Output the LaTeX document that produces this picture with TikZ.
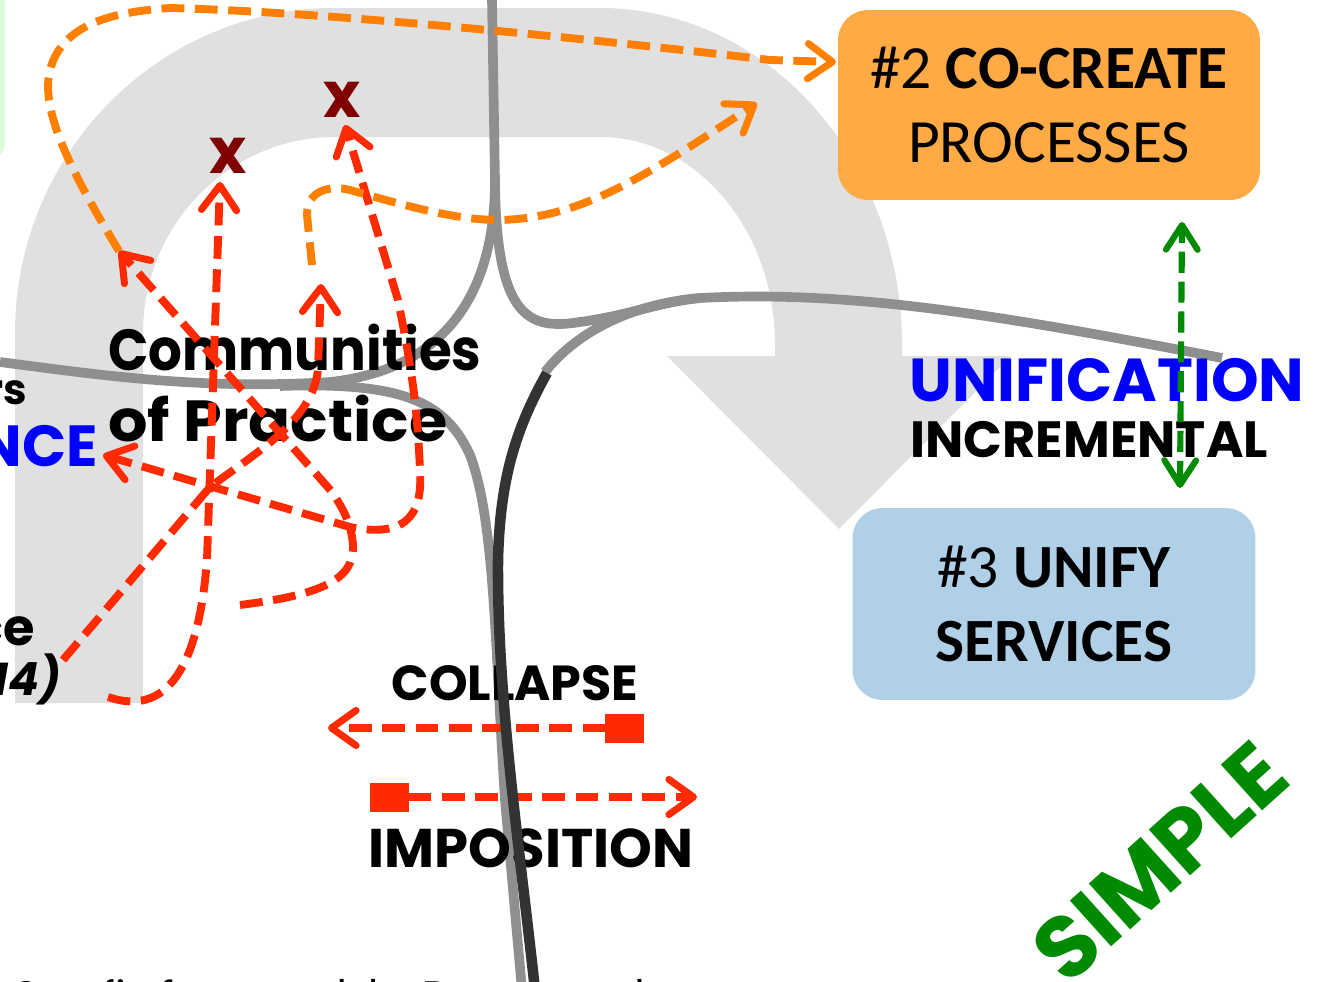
\documentclass[tikz,border=0pt]{standalone}
\usepackage{fontspec}
\setmainfont{Carlito}
\newfontfamily\comic{Poppins}
\usetikzlibrary{arrows.meta}
\definecolor{bandgray}{HTML}{E0E0E0}
\definecolor{faultgray}{HTML}{8F8F8F}
\definecolor{faultdark}{HTML}{333333}
\definecolor{flowred}{HTML}{FF2A00}
\definecolor{floworange}{HTML}{FF8000}
\definecolor{boxorange}{HTML}{FFAA45}
\definecolor{boxblue}{HTML}{B0D0E8}
\definecolor{chaosgreen}{HTML}{D9FDD9}
\definecolor{simplegreen}{HTML}{008A00}
\definecolor{markred}{HTML}{800000}
\tikzset{
  barb/.tip={Straight Barb[length=14pt, width=20pt, line width=4pt, round]},
  block/.tip={Square[length=22pt, width=16.5pt, line width=0pt]},
  plate/.style={rounded corners=0.6cm, align=center,
    font=\fontsize{35}{42}\selectfont},
  fault/.style={draw=faultgray, line width=5.5pt},
  redtrail/.style={draw=flowred, line width=4.5pt, dash pattern=on 13pt off 6pt},
  orangetrail/.style={draw=floworange, line width=4.5pt, dash pattern=on 13pt off 6pt},
  hand/.style={font=\comic\bfseries\fontsize{#1}{40}\selectfont},
}
\begin{document}
\begin{tikzpicture}[x=0.02cm, y=-0.02cm,
  every node/.style={inner sep=0pt}]
  \useasboundingbox (0,0) rectangle (1319,981);
  \clip (0,0) rectangle (1319,981);

  % pieces of the neighbour panels
  \draw[draw=chaosgreen!80!black!20, fill=chaosgreen, rounded corners=0.5cm]
    (-100,-40) rectangle (5,165);

  % the big turn
  \fill[bandgray] (15,703) -- (15,333) .. controls (15,154) and (158,8) .. (335,8)
    -- (600,8) .. controls (767,8) and (902,159) .. (902,345) -- (902,356)
    -- (1011,356) -- (839,529) -- (667,356) -- (775,356) -- (775,345)
    .. controls (775,230) and (697,137) .. (600,137) -- (335,137)
    .. controls (229,137) and (143,225) .. (143,333) -- (143,703) -- cycle;

  % domains
  \node[plate, fill=boxorange, minimum width=8.44cm, minimum height=3.8cm]
    (cocreate) at (1049,105) {\raisebox{-2pt}{\#2 \textbf{CO-CREATE}}\\\raisebox{-2pt}{PROCESSES}};
  \node[plate, fill=boxblue, minimum width=8.06cm, minimum height=3.84cm]
    (unify) at (1054,604) {\raisebox{-2pt}{\#3 \textbf{UNIFY}}\\\raisebox{-2pt}{\textbf{SERVICES}}};

  % boundaries
  \draw[fault] (492,0) -- (495,180) .. controls (495,300) and (440,370) .. (330,382)
    .. controls (200,390) and (100,375) .. (0,362);
  \draw[fault] (495,180) .. controls (496,320) and (530,330) .. (580,322)
    .. controls (630,315) and (660,302) .. (700,298)
    .. controls (850,290) and (1000,315) .. (1222,358);
  \draw[fault] (700,298) .. controls (620,305) and (570,340) .. (545,372);
  \draw[fault] (280,386) .. controls (400,382) and (445,400) .. (470,455)
    .. controls (495,520) and (495,650) .. (505,800) -- (522,990);

  % texts
  \node[hand=33, anchor=north west, align=left] (cop) at (108,324)
    {\scalebox{0.915}[1]{Communities}\\\scalebox{1.07}[1]{of Practice}};
  \node[hand=28] (collapse) at (515,683) {COLLAPSE};
  \node[hand=31] (imposition) at (531,848) {IMPOSITION};
  \node[hand=34.5, text=blue, anchor=west] (unification) at (909,380) {UNIFICATION};
  \node[hand=29, anchor=west] (incremental) at (910,440) {INCREMENTAL};
  \node[hand=50, text=simplegreen, rotate=42] (simple) at (1160,862) {SIMPLE};
  \node[hand=36, text=markred] (xa) at (228,156) {x};
  \node[hand=36, text=markred] (xb) at (342,100) {x};
  \node[hand=24, anchor=east] (rs) at (27,393) {rs};
  \node[hand=33, text=blue, anchor=east] (nce) at (98,446) {NCE};
  \node[hand=29, anchor=east] (ce) at (35,631) {ce};
  \node[font=\comic\bfseries\itshape\fontsize{26}{30}\selectfont,
    anchor=base east] (year) at (62,695) {14)};
  \node[anchor=base west, font=\fontsize{25.5}{30}\selectfont] (credit)
    at (12,1010) {Cynefin framework by Dave Snowden};

  % ends of the trails
  \coordinate (ua) at (220,182);
  \coordinate (ub) at (345,125);
  \coordinate (uc) at (321,284);
  \coordinate (ud) at (119,251);
  \coordinate (ue) at (103,455);
  \coordinate (toco) at (836,62);
  \coordinate (tocob) at (757,103);

  % red trails
  \draw[redtrail, -barb] (108,697) .. controls (175,720) and (200,650) .. (207,560)
    -- (ua);
  \draw[redtrail, barb-barb] (ue) -- (350,527) .. controls (415,540) and (422,505) .. (420,470)
    .. controls (417,400) and (410,360) .. (398,300) -- (ub);
  \draw[redtrail, -barb] (63,660) -- (210,487) .. controls (260,450) and (312,420) .. (318,370)
    -- (uc);
  \draw[redtrail, -barb] (240,605) .. controls (320,595) and (355,580) .. (353,545)
    .. controls (351,520) and (340,505) .. (333,493) -- (ud);

  % orange trails
  \draw[orangetrail, -barb] (ud) .. controls (70,170) and (40,110) .. (50,70)
    .. controls (62,25) and (110,12) .. (170,8)
    .. controls (330,12) and (600,40) .. (770,60) -- (toco);
  \draw[orangetrail, -barb] (312,265) -- (307,215) .. controls (307,190) and (330,185) .. (350,190)
    .. controls (420,210) and (460,220) .. (500,220)
    .. controls (580,218) and (640,180) .. (tocob);

  % collapse and imposition
  \coordinate (colstart) at (644,728);
  \coordinate (colend) at (328,728);
  \coordinate (impstart) at (370,797);
  \coordinate (impend) at (697,797);
  \draw[redtrail, block-barb] (colstart) -- (colend);
  \draw[redtrail, block-barb] (impstart) -- (impend);

  % incremental unification
  \coordinate (uptip) at (1182,222);
  \coordinate (downtip) at (1180,488);
  \draw[draw=simplegreen, line width=3.5pt, dash pattern=on 12pt off 5pt,
    {Straight Barb[length=14pt, width=18pt, line width=3.5pt, round]}-{Straight Barb[length=14pt, width=18pt, line width=3.5pt, round]}]
    (downtip) -- (uptip);

  % the hard edge
  \draw[draw=faultdark, line width=6pt] (547,373) .. controls (515,430) and (500,480) .. (498,560)
    .. controls (497,700) and (520,850) .. (535,990);
\end{tikzpicture}
\end{document}
